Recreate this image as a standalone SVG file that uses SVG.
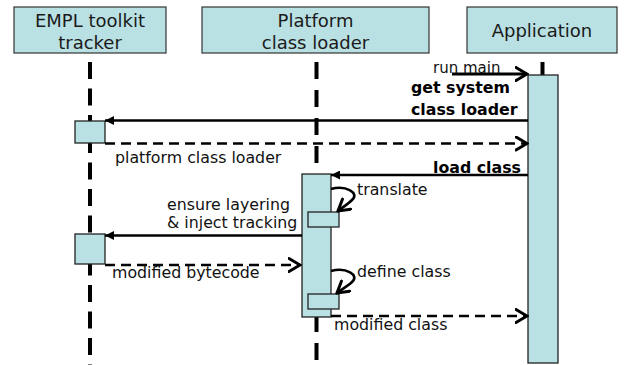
<svg xmlns="http://www.w3.org/2000/svg" width="627" height="365" viewBox="0 0 627 365">
  <style>
    .head { fill: #b9e0e3; stroke: #333; stroke-width: 1.2; }
    .act { fill: #b9e0e3; stroke: #222; stroke-width: 1.3; }
    .life { stroke: #000; stroke-width: 4; fill: none; }
    .htext { font-family: "DejaVu Sans", Verdana, sans-serif; font-size: 18px; fill: #1a1a1a; text-anchor: middle; }
    .lbl { font-family: "DejaVu Sans", Verdana, sans-serif; font-size: 15.8px; fill: #111; }
    .bold { font-weight: bold; fill: #000; }
    .call { stroke: #000; stroke-width: 2.6; fill: none; marker-end: url(#solidHead); }
    .ret { stroke: #000; stroke-width: 2.6; fill: none; stroke-dasharray: 10 6; marker-end: url(#openHead); }
    .self { stroke: #000; stroke-width: 2.6; fill: none; marker-end: url(#openHead); }
  </style>
  <defs>
    <marker id="solidHead" viewBox="0 0 10 10" refX="10" refY="5" markerUnits="userSpaceOnUse" markerWidth="10" markerHeight="9" orient="auto">
      <path d="M0,0 L10,5 L0,10 Z" fill="#000"/>
    </marker>
    <marker id="openHead" viewBox="0 0 14 16" refX="12.5" refY="8" markerUnits="userSpaceOnUse" markerWidth="14" markerHeight="16" orient="auto">
      <path d="M1.5,1.5 L12.5,8 L1.5,14.5" fill="none" stroke="#000" stroke-width="3" stroke-linecap="round" stroke-linejoin="miter"/>
    </marker>
  </defs>

  <!-- EMPL toolkit tracker -->
  <g id="tracker">
    <rect class="head" x="14" y="7" width="152" height="46"/>
    <text class="htext" x="90" y="27">EMPL toolkit</text>
    <text class="htext" x="90" y="49">tracker</text>
    <line class="life" x1="90" y1="62" x2="90" y2="121" stroke-dasharray="17 9.5"/>
    <line class="life" x1="90" y1="143" x2="90" y2="234" stroke-dasharray="17 9.5" stroke-dashoffset="7"/>
    <line class="life" x1="90" y1="264" x2="90" y2="365" stroke-dasharray="17 9.5" stroke-dashoffset="5.5"/>
    <rect class="act" x="75" y="121" width="30" height="22"/>
    <rect class="act" x="75" y="234" width="30" height="30"/>
  </g>

  <!-- Platform class loader -->
  <g id="platform">
    <rect class="head" x="202" y="7" width="227" height="46"/>
    <text class="htext" x="315.5" y="27">Platform</text>
    <text class="htext" x="315.5" y="49">class loader</text>
    <line class="life" x1="316.5" y1="62" x2="316.5" y2="174" stroke-dasharray="17 11"/>
    <line class="life" x1="316.5" y1="317" x2="316.5" y2="365" stroke-dasharray="17 11" stroke-dashoffset="2"/>
    <rect class="act" x="302" y="174" width="29" height="143"/>
    <rect class="act" x="308" y="212" width="31" height="15"/>
    <rect class="act" x="308" y="294" width="31" height="15"/>
  </g>

  <!-- Application -->
  <g id="application">
    <rect class="head" x="467" y="7" width="150" height="46"/>
    <text class="htext" x="542" y="37">Application</text>
    <line class="life" x1="542.5" y1="62" x2="542.5" y2="75"/>
    <rect class="act" x="528" y="75" width="30" height="288"/>
  </g>

  <!-- messages -->
  <g id="connectors">
    <line x1="452" y1="74" x2="527" y2="74" stroke="#000" stroke-width="3" marker-end="url(#openHead)"/>
    <line class="call" x1="528" y1="120.5" x2="105" y2="120.5"/>
    <line class="ret" x1="105" y1="143.5" x2="527" y2="143.5"/>
    <line class="call" x1="528" y1="175" x2="331" y2="175"/>
    <path class="self" d="M331,189 C346,185 360,193 352,200 C348,204 343,207 338,211"/>
    <line class="call" x1="302" y1="235.5" x2="105" y2="235.5"/>
    <line class="ret" x1="105" y1="265" x2="300" y2="265"/>
    <path class="self" d="M331,271 C346,267 360,275 352,282 C348,286 342,289 337,293"/>
    <line class="ret" x1="331" y1="316" x2="527" y2="316"/>
  </g>

  <!-- message labels -->
  <g id="labels">
    <text class="lbl" x="433" y="73" style="font-size:15px">run main</text>
    <text class="lbl bold" x="411" y="93">get system</text>
    <text class="lbl bold" x="411" y="115">class loader</text>
    <text class="lbl" x="115" y="163">platform class loader</text>
    <text class="lbl bold" x="433" y="173">load class</text>
    <text class="lbl" x="357" y="195">translate</text>
    <text class="lbl" x="167" y="210">ensure layering</text>
    <text class="lbl" x="167" y="228">&amp; inject tracking</text>
    <text class="lbl" x="112" y="278">modified bytecode</text>
    <text class="lbl" x="357" y="277">define class</text>
    <text class="lbl" x="334" y="330">modified class</text>
  </g>
</svg>
